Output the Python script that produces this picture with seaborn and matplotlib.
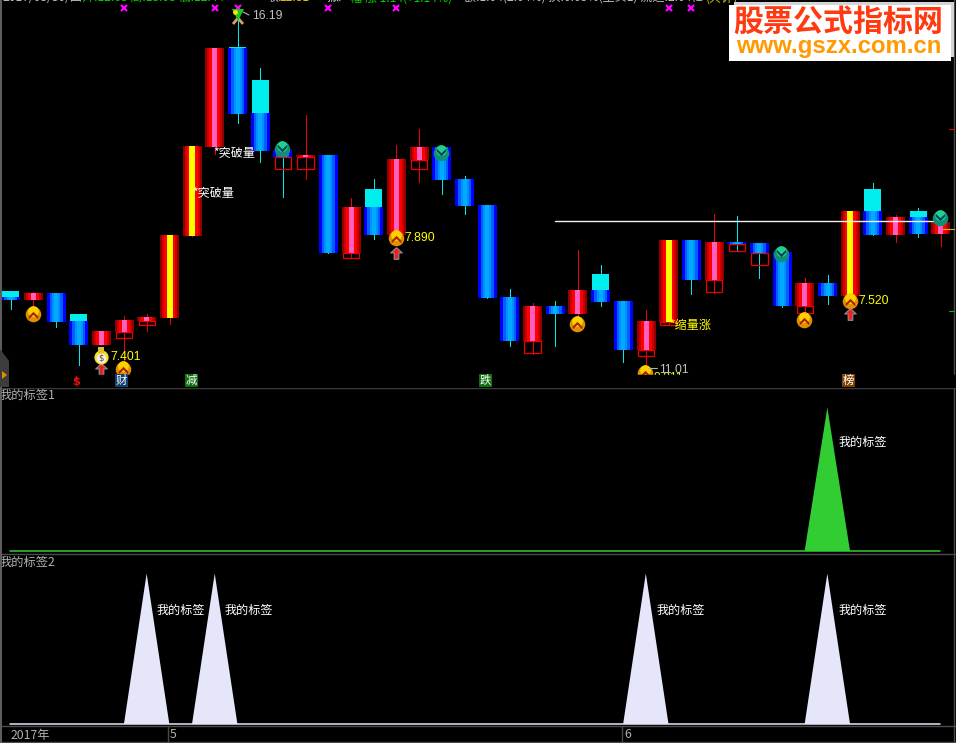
import numpy as np
import matplotlib
matplotlib.use("Agg")
import matplotlib.pyplot as plt
from matplotlib.path import Path
from matplotlib.patches import Rectangle, Polygon
import seaborn as sns

# ---- data (prices, arbitrary scale) ----
kinds = ["b","r","b","b","r","r","r","y","y","r","b","b","b","r","b","r","b","r","r","b","b",
         "b","b","r","b","r","b","b","r","y","b","r","b","b","b","r","b","y","b","r","b","r"]
body_top = [4.80,4.96,4.96,3.84,3.44,3.88,4.00,7.28,10.84,14.76,14.76,12.16,10.68,10.48,10.48,8.40,8.40,10.32,10.80,10.80,9.52,
            8.48,4.80,4.44,4.44,5.08,5.08,4.64,3.84,7.08,7.08,7.00,7.00,6.96,6.60,5.36,5.36,8.24,8.24,8.00,8.00,7.80]
body_bot = [4.68,4.68,3.80,2.88,2.88,3.40,3.84,3.96,7.24,10.80,12.12,10.64,10.40,10.40,6.56,6.56,7.28,7.28,10.28,9.48,8.44,
            4.76,3.04,3.04,4.12,4.12,4.60,2.68,2.68,3.80,5.48,5.48,6.92,6.56,4.44,4.44,4.84,4.84,7.28,7.28,7.32,7.32]
high     = [5.04,5.00,4.96,4.12,3.44,4.04,4.12,7.28,10.84,14.76,15.88,13.96,10.68,12.08,10.48,8.76,9.52,10.88,11.52,10.80,9.64,
            8.48,5.12,4.56,4.64,6.68,6.08,4.64,4.28,7.08,7.08,8.12,8.04,6.96,6.60,5.56,5.68,8.24,9.36,8.08,8.36,7.96]
low      = [4.32,4.40,3.60,2.08,2.88,2.20,3.44,3.72,7.24,10.52,11.76,10.20,8.80,9.52,6.56,6.36,7.12,7.28,9.40,8.92,8.12,
            4.76,2.84,2.52,2.84,3.96,4.44,2.20,1.88,3.68,4.92,4.96,6.68,5.56,4.40,4.16,4.52,4.84,7.28,7.00,7.20,6.84]
cap_top  = {0:5.04,3:4.12,10:14.80,11:13.48,16:9.12,26:5.72,38:9.12,40:8.24}
hollow_bot = {5:3.16,6:3.68,12:9.92,13:9.92,15:6.36,18:9.92,23:2.56,28:2.44,29:3.68,31:5.00,32:6.64,33:6.08,35:4.16}
coin_idx = [1,5,17,25,28,35,37]
coin_val = [4.12,1.92,7.16,3.72,1.76,3.88,4.64]
down_idx = [12,19,34,41]
down_val = [10.72,10.56,6.52,7.96]
arrow_idx = [4,17,37]
arrow_val = [1.92,6.56,4.12]
cross_idx = [5,9,10,14,17,29,30]
resist_idx = [24,41]
resist_val = 7.86
signal_a = [36]
signal_b = [6,9,28,36]
panel_a_label = "我的标签1"
panel_b_label = "我的标签2"
mark_label = "我的标签"

n = len(body_top)
idx = np.arange(n)
sig_a = np.zeros(n); sig_a[signal_a] = 1
sig_b = np.zeros(n); sig_b[signal_b] = 1

sns.set_theme(style="dark", rc={"axes.facecolor": "black", "figure.facecolor": "black"})
plt.rcParams["font.family"] = ["Noto Sans CJK SC", "DejaVu Sans"]

W, H = 956, 743
fig = plt.figure(figsize=(W/100, H/100), dpi=100, facecolor="black")
PX = 22.69
X0 = 10.0
XL = (-X0/PX, (W-X0)/PX)

def panel(y0, y1):
    a = fig.add_axes([0, 1-y1/H, 1, (y1-y0)/H])
    a.set_xlim(*XL); a.set_facecolor("none"); a.axis("off")
    return a

# ---- candle panel ----
ax = panel(0, 387)
ax.set_ylim(16.68-0.04*387, 16.68)
pxw = 1/PX
shift = 0.7*pxw
strips = {
 "r": [("#900000",2),("#C80000",2),("#FF0000",3),("#FF60C0",5),("#FF0000",3),("#C80000",2),("#900000",2)],
 "y": [("#900000",2),("#D00000",2),("#FF0000",2.5),("#FFFF00",6),("#FF0000",2.5),("#D00000",2),("#900000",2)],
 "b": [("#0000FF",3),("#0060FF",2.5),("#0090FF",2),("#00AAFF",4),("#0090FF",2),("#0060FF",2.5),("#0000FF",3)],
}
for i in idx:
    k = kinds[i]
    wc = "#00E8E8" if k == "b" else "#F00000"
    if high[i] > low[i]:
        ax.vlines(i + shift, low[i], high[i], color=wc, lw=0.72, zorder=2, antialiased=False)
    if i in hollow_bot:
        ax.bar(i + shift, body_bot[i]-hollow_bot[i], bottom=hollow_bot[i], width=16.5*pxw, fill=False,
               edgecolor="#F00000", lw=0.9, zorder=2.5)
    x = i - 9.5*pxw + shift
    for c, w in strips[k]:
        ax.bar(x + w*pxw/2, body_top[i]-body_bot[i], bottom=body_bot[i], width=w*pxw, color=c, lw=0, zorder=3)
        x += w*pxw
    if i in cap_top:
        ax.bar(i + shift, cap_top[i]-body_top[i], bottom=body_top[i], width=17*pxw, color="#00EEEE", lw=0, zorder=3.5)
ax.plot(resist_idx, [resist_val]*2, color="#F0F0F0", lw=1.0, zorder=6)

# icons
chev = Path([(-1,-0.45),(0,0.55),(1,-0.45),(1,-1.0),(0,-0.05),(-1,-1.0),(-1,-0.45)], closed=False)
chev_d = Path([(-1,0.45),(0,-0.55),(1,0.45),(1,1.0),(0,0.05),(-1,1.0),(-1,0.45)], closed=False)
arrow = Path([(0,1),(1,0.1),(0.4,0.1),(0.4,-1),(-0.4,-1),(-0.4,0.1),(-1,0.1),(0,1)], closed=False)
ax.scatter(coin_idx, coin_val, s=125, color="#E09000", lw=0, zorder=7)
ax.scatter(coin_idx, np.array(coin_val)+0.12, s=60, color="#FFD000", lw=0, zorder=7.1)
ax.scatter(coin_idx, coin_val, s=48, marker=chev, color="#A82000", lw=0, zorder=7.2)
ax.scatter(down_idx, down_val, s=125, color="#0E9078", lw=0, zorder=7)
ax.scatter(down_idx, np.array(down_val)+0.12, s=60, color="#20D090", lw=0, zorder=7.1)
ax.scatter(down_idx, down_val, s=48, marker=chev_d, color="#0A3F55", lw=0, zorder=7.2)
ax.scatter(arrow_idx, arrow_val, s=70, marker=arrow, color="#F02020", edgecolor="#909090", lw=0.8, zorder=7)
# money bag on the low candle
ax.scatter([4], [16.68-0.04*357], s=105, color="#F4E020", lw=0, zorder=7)
ax.scatter([4], [16.68-0.04*358], s=48, color="#F0F0F0", lw=0, zorder=7.1)
ax.scatter([4], [16.68-0.04*350], s=16, marker="s", color="#E0C030", lw=0, zorder=7.1)
ax.text(4, 16.68-0.04*358, "$", color="#803020", fontsize=6, ha="center", va="center", zorder=7.2, family="DejaVu Sans")

# ---- overlay in pixels ----
ov = fig.add_axes([0, 0, 1, 1]); ov.set_xlim(0, W); ov.set_ylim(H, 0)
ov.set_facecolor("none"); ov.axis("off")
ov.add_patch(Rectangle((0, 375), W, 12, color="black", zorder=1))
font_num = "Liberation Sans"
def t(x, y, s, c, fs=8.7, **kw):
    kw.setdefault("va", "center"); kw.setdefault("ha", "left")
    return ov.text(x, y, s, color=c, fontsize=fs, zorder=5, **kw)

# cross markers at the top
for i in cross_idx:
    ov.plot(X0+PX*i+0.7, 8, marker="x", ms=4, mew=1.6, color="#FF00FF", zorder=4)

# top info row (cut off by the window edge)
for x, s, c in [(2, "2017/03/30/四", "#C0C0C0"), (82, "开:12.63 高:13.03 低:12.44", "#00D000"),
                (266, "收:", "#C0C0C0"), (280, "12.81", "#E0C000"), (327, "振:", "#C0C0C0"),
                (350, "幅 涨 1.14(+1.14%)", "#00D000"), (464, "额:1.04(2.04%) 换:0.05%(主买1) 流通:2.04亿", "#C0C0C0"),
                (706, "(共计)", "#C8C800")]:
    ov.text(x, 1.1, s, color=c, fontsize=8.7, va="baseline", ha="left", zorder=3)

# value labels
for x, y, s in [(110, 357, "7.401"), (404, 238, "7.890"), (858, 301, "7.520")]:
    t(x, y, s, "#FFFF00", fs=8.8, family=font_num)
t(252, 16, "16.19", "#C0C0C0", fs=8.8, family=font_num)
ov.plot([243, 249], [12, 15], color="#B0B0B0", lw=0.8, zorder=5)
t(659, 370, "11.01", "#C0C0C0", fs=8.8, family=font_num, clip_on=True)
ov.plot([648, 657], [368, 368], color="#B0B0B0", lw=0.8, zorder=0.5)
t(213, 154, "*突破量", "#FFFFFF"); t(192, 193, "*突破量", "#FFFFFF")
t(669, 325, "*缩量涨", "#FFFF00")
ov.text(654, 378, "8.011", color="#FFFF00", fontsize=8.8, family=font_num, va="center", zorder=0.5)

# peak icon
ov.plot([233, 238, 243], [24, 18, 24], color="#D8A060", lw=2, zorder=4, solid_capstyle="butt")
ov.plot(238, 15, marker="v", ms=8, color="#10C820", mew=0, zorder=4.2)
ov.plot(235, 12, marker="o", ms=3.5, color="#FFE000", mew=0, zorder=4.3)

# tag blocks
for x, s, bg in [(121.5, "财", "#104070"), (191.5, "减", "#107010"), (485.5, "跌", "#107010"), (848.5, "榜", "#804000")]:
    ov.add_patch(Rectangle((x-6.5, 373.5), 13, 13, color=bg, lw=0, zorder=2))
    ov.text(x, 380, s, color="white", fontsize=8.2, ha="center", va="center", zorder=3)
ov.text(76, 382, "$", color="#F01010", fontsize=8, ha="center", va="center", zorder=3, family="DejaVu Sans", weight="bold")
ov.plot(76, 376.5, marker="^", ms=3, color="#F01010", mew=0, zorder=3)

# panel separators and borders
for y in (387.5, 553.5, 726):
    ov.plot([0, W], [y, y], color="#4A4A4A", lw=1, zorder=0.2)
ov.plot([0, W], [741.5, 741.5], color="#4A4A4A", lw=1, zorder=0.2)
ov.plot([0.8, 0.8], [0, 743], color="#606060", lw=1.4, zorder=6)
ov.plot([954.5, 954.5], [0, 742], color="#4A4A4A", lw=1, zorder=0.2)
ov.plot([168.5, 168.5], [726, 742], color="#4A4A4A", lw=1, zorder=0.2)
ov.plot([622.5, 622.5], [726, 742], color="#4A4A4A", lw=1, zorder=0.2)
ov.plot([949, 954], [129, 129], color="#D01010", lw=0.8, zorder=4)
ov.plot([943, 954], [228.5, 228.5], color="#D8C000", lw=0.8, zorder=4)
ov.plot([949, 954], [311, 311], color="#10B020", lw=0.8, zorder=4)

# left handle
ov.add_patch(Polygon([(0, 349), (9, 361), (9, 387), (0, 387)], color="#3C3C3C", lw=0, zorder=6))
ov.add_patch(Polygon([(2, 371), (7, 375), (2, 379)], color="#E09000", lw=0, zorder=6.1))

# panel titles and axis text
t(0, 395.5, panel_a_label, "#B0B0B0", fs=8.8)
t(0, 562.5, panel_b_label, "#B0B0B0", fs=8.8)
t(11, 735, "2017年", "#B0B0B0", fs=8.8)
t(170, 735, "5", "#B0B0B0", fs=8.8)
t(624, 735, "6", "#B0B0B0", fs=8.8)

# watermark
ov.add_patch(Rectangle((734, 2), 220, 55, color="#D4D4D4", lw=0, zorder=8))
ov.add_patch(Rectangle((729, 5), 222, 56, color="white", lw=0, zorder=8.1))
ov.text(838, 21.5, "股票公式指标网", color="#FF3A10", fontsize=21.6, weight="bold", ha="center", va="center", zorder=8.2)
ov.text(839, 46, "www.gszx.com.cn", color="#FF9A00", fontsize=17.2, weight="bold", ha="center", va="center",
        family="Liberation Sans", zorder=8.2)

# ---- signal panels ----
def signal_panel(y0, y1, top, base, sig, col, line):
    a = panel(y0, y1)
    a.set_ylim((y1-base)/(base-top)*-1, (base-y0)/(base-top))
    a.fill_between(idx, 0, sig, color=col, lw=0, zorder=2)
    sns.lineplot(x=idx, y=np.zeros(n), ax=a, color=line, lw=1.1, zorder=3, legend=False)
    a.axis("off")
    return a

signal_panel(388, 553, 407, 550.5, sig_a, "#32CD32", "#32CD32")
signal_panel(554, 726, 573, 723.5, sig_b, "#E6E6FA", "#E6E6FA")
for x, y in [(839, 442), (157, 610), (225, 610), (657, 610), (839, 610)]:
    t(x, y, mark_label, "#FFFFFF", fs=8.7)

fig.savefig("out.png", dpi=100, facecolor="black")
